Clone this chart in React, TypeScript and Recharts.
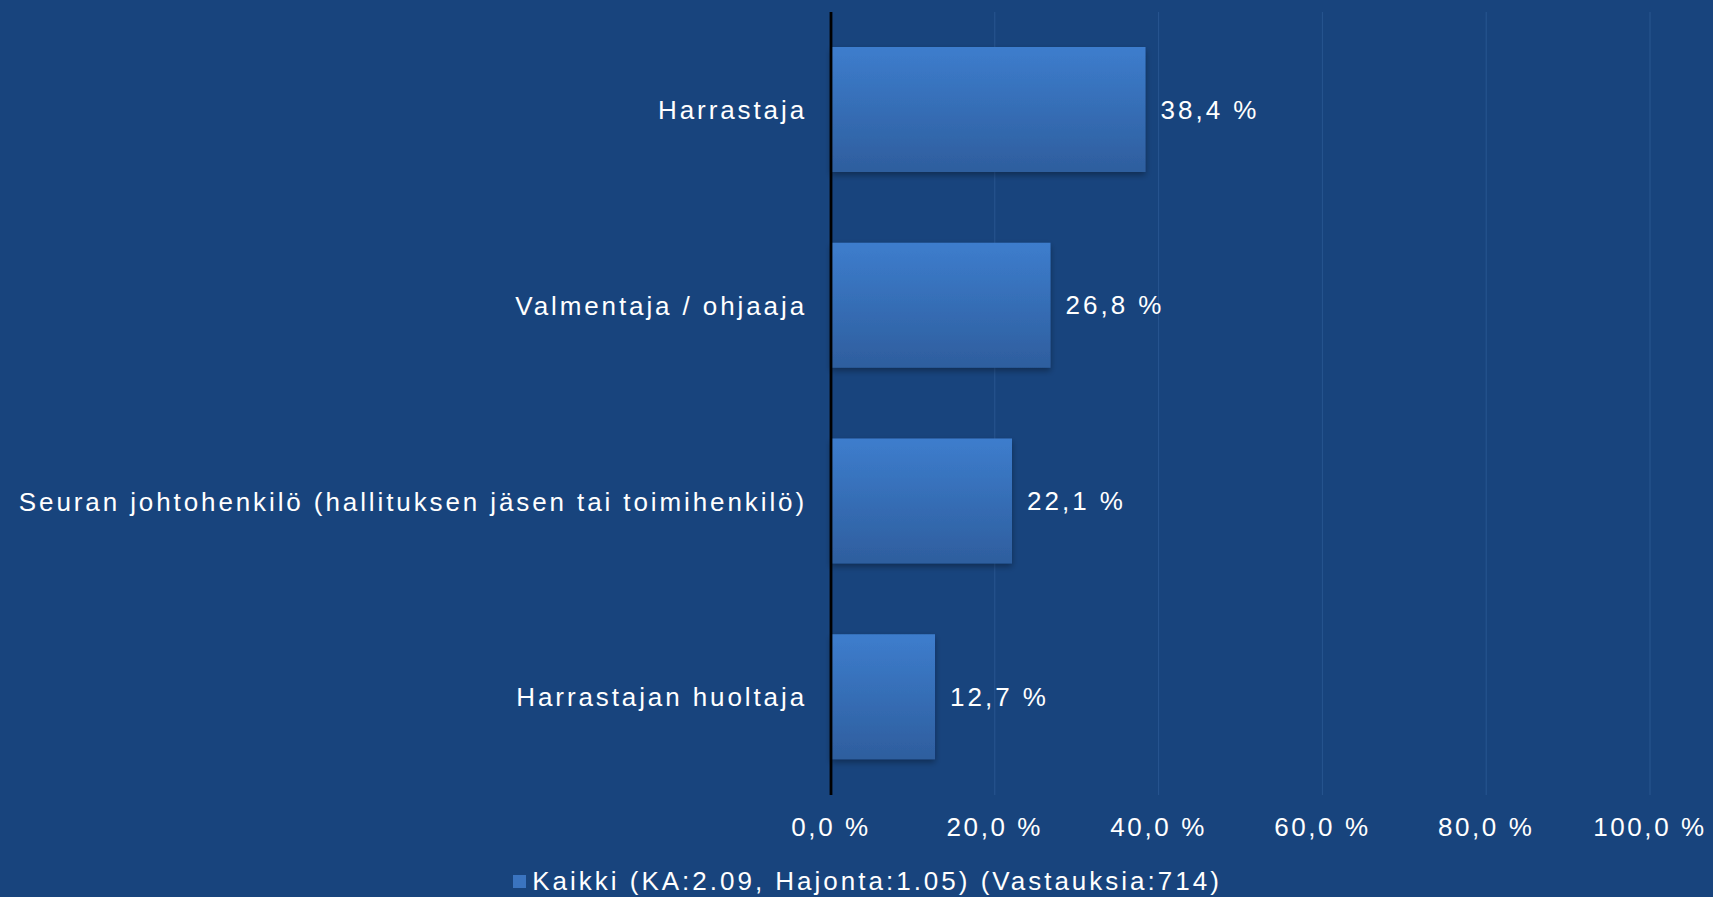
import { Bar, BarChart, CartesianGrid, LabelList, XAxis, YAxis, Rectangle } from "recharts"

const categories = [
  "Harrastaja",
  "Valmentaja / ohjaaja",
  "Seuran johtohenkilö (hallituksen jäsen tai toimihenkilö)",
  "Harrastajan huoltaja",
]
const values = [38.4, 26.8, 22.1, 12.7]
const xTicks = [0, 20, 40, 60, 80, 100]
const seriesName = "Kaikki (KA:2.09, Hajonta:1.05) (Vastauksia:714)"

const data = categories.map((name, i) => ({ name, value: values[i] }))

const BG = "#18447d"
const FONT = "'Liberation Sans', Arial, sans-serif"
const fmt = (v: number) => `${v.toFixed(1).replace(".", ",")} %`

const textStyle = { fill: "#ffffff", fontSize: 26, fontFamily: FONT, letterSpacing: 2.6 }
const catStyle = { ...textStyle, letterSpacing: 2.9 }
const valStyle = { ...textStyle, letterSpacing: 3.0 }

function ShadowBar(props: any) {
  return <Rectangle {...props} fill="url(#barGrad)" filter="url(#barShadow)" />
}

export default function App() {
  return (
    <div style={{ position: "absolute", left: 0, top: 0, width: 1713, height: 897, background: BG }}>
      <BarChart
        width={1713}
        height={897}
        data={data}
        layout="vertical"
        margin={{ top: 12, right: 63, bottom: 62, left: 0 }}
      >
        <defs>
          <linearGradient id="barGrad" x1="0" y1="0" x2="0" y2="1">
            <stop offset="0%" stopColor="#3d7dcd" />
            <stop offset="100%" stopColor="#2e5e9e" />
          </linearGradient>
          <filter id="barShadow" x="-10%" y="-10%" width="120%" height="130%">
            <feDropShadow dx="0" dy="3" stdDeviation="3" floodColor="#000" floodOpacity="0.35" />
          </filter>
        </defs>
        <CartesianGrid horizontal={false} stroke="#285690" strokeWidth={1} />
        <XAxis
          type="number"
          domain={[0, 100]}
          ticks={xTicks}
          tickFormatter={fmt}
          axisLine={false}
          tickLine={false}
          tickSize={0}
          tickMargin={23}
          height={40}
          tick={textStyle}
        />
        <YAxis
          type="category"
          dataKey="name"
          width={831}
          axisLine={{ stroke: "#000", strokeWidth: 2.8 }}
          tickLine={false}
          tickSize={0}
          tickMargin={24}
          tick={catStyle}
          interval={0}
        />
        <Bar dataKey="value" name={seriesName} barSize={125} shape={ShadowBar} isAnimationActive={false}>
          <LabelList dataKey="value" position="right" offset={15} formatter={(v: any) => fmt(Number(v))} style={valStyle} fill="#fff" />
        </Bar>
      </BarChart>
      <div
        style={{
          position: "absolute",
          left: 0,
          top: 864,
          width: 1713,
          boxSizing: "border-box",
          paddingLeft: 22,
          display: "flex",
          justifyContent: "center",
          alignItems: "center",
          fontFamily: FONT,
          fontSize: 26,
          letterSpacing: 3.0,
          color: "#fff",
          lineHeight: "34px",
        }}
      >
        <span style={{ display: "inline-block", width: 13, height: 13, background: "#3a74c0", marginRight: 6 }} />
        <span>{seriesName}</span>
      </div>
    </div>
  )
}
